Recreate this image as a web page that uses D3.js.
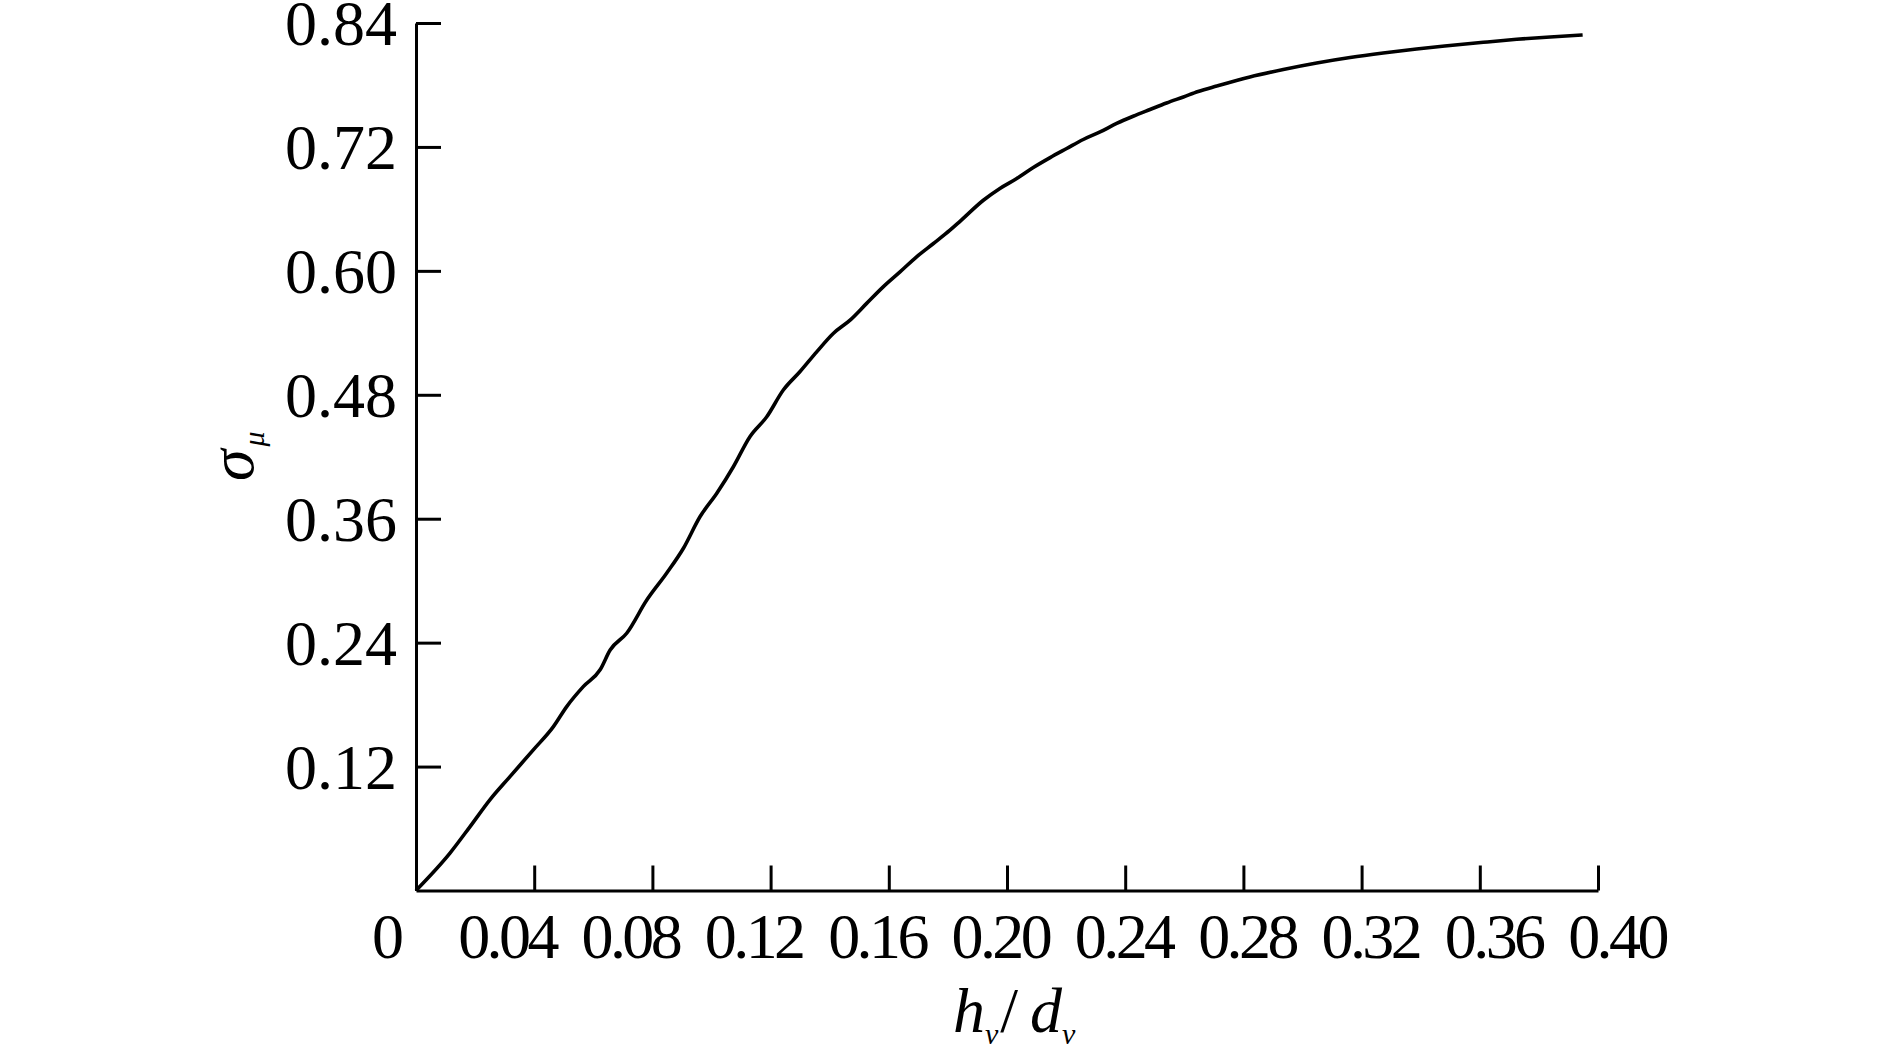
<!DOCTYPE html>
<html>
<head>
<meta charset="utf-8">
<script src="https://cdn.jsdelivr.net/npm/d3@7"></script>
<style>
  html, body { margin: 0; padding: 0; background: #fff; }
  svg { display: block; }
  text { font-family: "Liberation Serif", "Times New Roman", serif; fill: #000; }
</style>
</head>
<body>
<svg id="chart" width="1889" height="1048"></svg>
<script>
// ---- data ----
const xTicks = [0, 0.04, 0.08, 0.12, 0.16, 0.20, 0.24, 0.28, 0.32, 0.36, 0.40];
const yTicks = [0.12, 0.24, 0.36, 0.48, 0.60, 0.72, 0.84];
const hv = [0, 0.0115, 0.0183, 0.0250, 0.0318, 0.0397, 0.0465, 0.0510, 0.0566, 0.0623, 0.0657, 0.0713, 0.0781,
  0.0848, 0.0905, 0.0961, 0.1018, 0.1074, 0.1130, 0.1187, 0.1243, 0.1299, 0.1356, 0.1412, 0.1469,
  0.1525, 0.1581, 0.1638, 0.1694, 0.1751, 0.1807, 0.1841, 0.1920, 0.1976, 0.2033, 0.2089, 0.2146,
  0.2202, 0.2258, 0.2315, 0.2371, 0.2427, 0.2484, 0.2540, 0.2597, 0.2647, 0.2710, 0.2822, 0.2935,
  0.3048, 0.3161, 0.3273, 0.3386, 0.3499, 0.3612, 0.3725, 0.3838, 0.3948];
const sigma = [0, 0.0362, 0.0619, 0.0878, 0.1103, 0.1362, 0.1587, 0.1781, 0.1974, 0.2137, 0.2329, 0.2491, 0.2813,
  0.3072, 0.3314, 0.3619, 0.3846, 0.4103, 0.4394, 0.4587, 0.4846, 0.5023, 0.5216, 0.5394, 0.5523,
  0.5685, 0.5845, 0.5990, 0.6136, 0.6265, 0.6394, 0.6480, 0.6684, 0.6798, 0.6894, 0.7001, 0.7097,
  0.7185, 0.7272, 0.7345, 0.7427, 0.7497, 0.7562, 0.7625, 0.7684, 0.7737, 0.7790, 0.7878, 0.7950,
  0.8013, 0.8066, 0.8110, 0.8149, 0.8182, 0.8213, 0.8242, 0.8265, 0.8284];

// ---- layout ----
const svg = d3.select("#chart");
const x = d3.scaleLinear().domain([0, 0.40]).range([416, 1598]);
const xLabelPos = d3.scaleLinear().domain([0.04, 0.40]).range([507, 1617]);
const y = d3.scaleLinear().domain([0, 0.84]).range([890.5, 23]);

const fontSize = 64;

// x axis
const gx = svg.append("g").attr("transform", `translate(0,${y(0)})`)
  .call(d3.axisBottom(x).tickValues(xTicks).tickSize(-25).tickSizeOuter(0).tickFormat(""));
gx.select(".domain").attr("stroke", "#000").attr("stroke-width", 3);
gx.selectAll(".tick line").attr("stroke", "#000").attr("stroke-width", 3);

svg.append("g").selectAll("text").data(xTicks).join("text")
  .attr("x", d => d === 0 ? 388 : xLabelPos(d))
  .attr("y", 958)
  .attr("text-anchor", "middle")
  .attr("font-size", fontSize)
  .attr("letter-spacing", d => d === 0 ? 0 : -3.6)
  .text(d => d === 0 ? "0" : d.toFixed(2));

// y axis
const gy = svg.append("g").attr("transform", `translate(${x(0)},0)`)
  .call(d3.axisLeft(y).tickValues(yTicks).tickSize(-25).tickSizeOuter(0).tickPadding(19)
    .tickFormat(d => d.toFixed(2)));
gy.select(".domain").attr("stroke", "#000").attr("stroke-width", 3);
gy.selectAll(".tick line").attr("stroke", "#000").attr("stroke-width", 3);
gy.selectAll(".tick text").attr("font-size", fontSize)
  .attr("font-family", '"Liberation Serif", "Times New Roman", serif')
  .attr("fill", "#000").attr("dy", "0.34em");

// curve
const pts = hv.map((v, i) => [v, sigma[i]]);
svg.append("path").datum(pts)
  .attr("fill", "none").attr("stroke", "#000").attr("stroke-width", 3.6)
  .attr("stroke-linejoin", "round").attr("stroke-linecap", "butt")
  .attr("d", d3.line().x(d => x(d[0])).y(d => y(d[1])).curve(d3.curveMonotoneX));

// y title
const yt = svg.append("text").attr("transform", "translate(253,481) rotate(-90)")
  .attr("text-anchor", "start");
yt.append("tspan").attr("font-size", 64).attr("font-style", "italic").text("σ");
yt.append("tspan").attr("font-size", 30).attr("font-style", "italic").attr("dx", 3).attr("dy", 11).text("μ");

// x title
const xt = svg.append("text").attr("x", 953).attr("y", 1032).attr("text-anchor", "start");
xt.append("tspan").attr("font-size", 64).attr("font-style", "italic").text("h");
xt.append("tspan").attr("font-size", 30).attr("font-style", "italic").attr("dy", 12).text("v");
xt.append("tspan").attr("font-size", 64).attr("dy", -12).attr("dx", 2).text("/");
xt.append("tspan").attr("font-size", 64).attr("font-style", "italic").attr("dx", 12).text("d");
xt.append("tspan").attr("font-size", 30).attr("font-style", "italic").attr("dy", 12).text("v");
</script>
</body>
</html>
